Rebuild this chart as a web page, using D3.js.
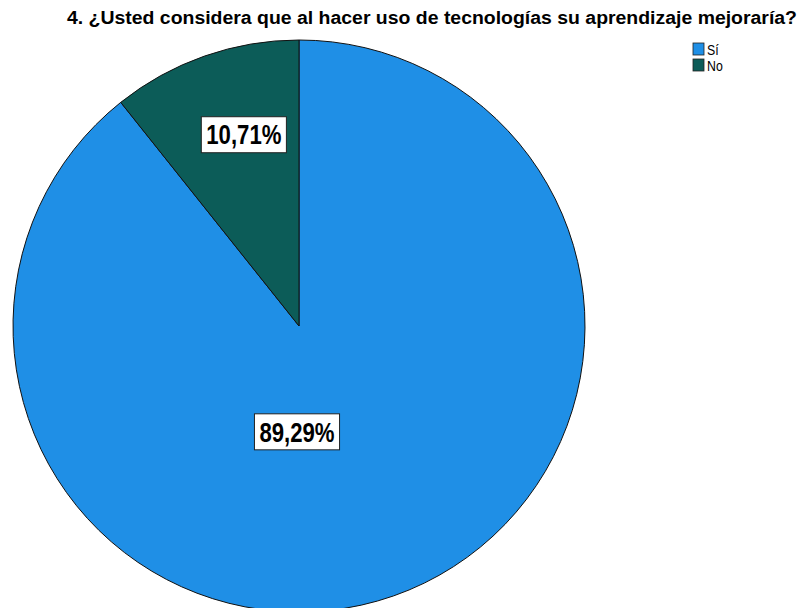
<!DOCTYPE html>
<html>
<head>
<meta charset="utf-8">
<script src="https://cdn.jsdelivr.net/npm/d3@7"></script>
<style>
  body { margin: 0; background: #fff; }
  svg { display: block; }
</style>
</head>
<body>
<div id="chart"></div>
<script>
// data
var categories = ['Sí', 'No']
var values = [89.29, 10.71]
var colors = ['#1f8fe6', '#0c5c58']
var title = '4. ¿Usted considera que al hacer uso de tecnologías su aprendizaje mejoraría?'

var width = 801
var height = 608
var cx = 299, cy = 326, radius = 286
var font = 'Liberation Sans, Arial, sans-serif'
// the original uses a condensed face; squeeze the glyphs horizontally
var squeeze = 0.82

var svg = d3.select('#chart').append('svg')
    .attr('width', width)
    .attr('height', height)

var fmt = function (v) { return d3.format('.2f')(v).replace('.', ',') + '%' }

var color = d3.scaleOrdinal().domain(categories).range(colors)

var pie = d3.pie()
    .sort(null)
    .value(function (d) { return d.value })

var arcs = pie(categories.map(function (c, i) { return { cat: c, value: values[i] } }))

var arc = d3.arc().innerRadius(0).outerRadius(radius)

var g = svg.append('g').attr('transform', 'translate(' + cx + ',' + cy + ')')

g.selectAll('path')
    .data(arcs)
    .enter().append('path')
    .attr('d', arc)
    .attr('fill', function (d) { return color(d.data.cat) })
    .attr('stroke', '#111')
    .attr('stroke-width', 1)

// labels: the small slice near its centroid, the big one just below the centre
function labelPos(d) {
    if (d.data.value < 50) {
        var a = (d.startAngle + d.endAngle) / 2
        var r = radius * 0.69
        return [Math.sin(a) * r + 10, -Math.cos(a) * r - 5]
    }
    return [-2, radius * 0.37]
}

var labels = g.selectAll('g.label')
    .data(arcs)
    .enter().append('g')
    .attr('class', 'label')
    .attr('transform', function (d) { return 'translate(' + labelPos(d) + ')' })

labels.append('text')
    .text(function (d) { return fmt(d.data.value) })
    .attr('text-anchor', 'middle')
    .attr('dy', '0.36em')
    .attr('font-family', font)
    .attr('font-weight', 'bold')
    .attr('font-size', 27)
    .attr('fill', '#000')

labels.each(function () {
    var t = d3.select(this).select('text')
    var w = t.node().getComputedTextLength() * squeeze
    t.attr('textLength', w).attr('lengthAdjust', 'spacingAndGlyphs')
    d3.select(this).insert('rect', 'text')
        .attr('x', -w / 2 - 5)
        .attr('y', -18)
        .attr('width', w + 10)
        .attr('height', 36)
        .attr('fill', '#fff')
        .attr('stroke', '#222')
        .attr('stroke-width', 1)
})

// title
svg.append('text')
    .text(title)
    .attr('x', 67)
    .attr('y', 24)
    .attr('textLength', 730)
    .attr('lengthAdjust', 'spacingAndGlyphs')
    .attr('font-family', font)
    .attr('font-weight', 'bold')
    .attr('font-size', 18)
    .attr('fill', '#000')

// legend
var legend = svg.append('g').attr('transform', 'translate(693,43)')
var items = legend.selectAll('g')
    .data(categories)
    .enter().append('g')
    .attr('transform', function (d, i) { return 'translate(0,' + i * 16 + ')' })

items.append('rect')
    .attr('width', 11)
    .attr('height', 12)
    .attr('fill', function (d) { return color(d) })
    .attr('stroke', '#222')
    .attr('stroke-width', 0.8)

items.append('text')
    .text(function (d) { return d })
    .attr('x', 14)
    .attr('y', 11.5)
    .attr('font-family', font)
    .attr('font-size', 15)
    .attr('fill', '#000')
    .each(function () {
        var t = d3.select(this)
        t.attr('textLength', this.getComputedTextLength() * squeeze)
         .attr('lengthAdjust', 'spacingAndGlyphs')
    })
</script>
</body>
</html>
